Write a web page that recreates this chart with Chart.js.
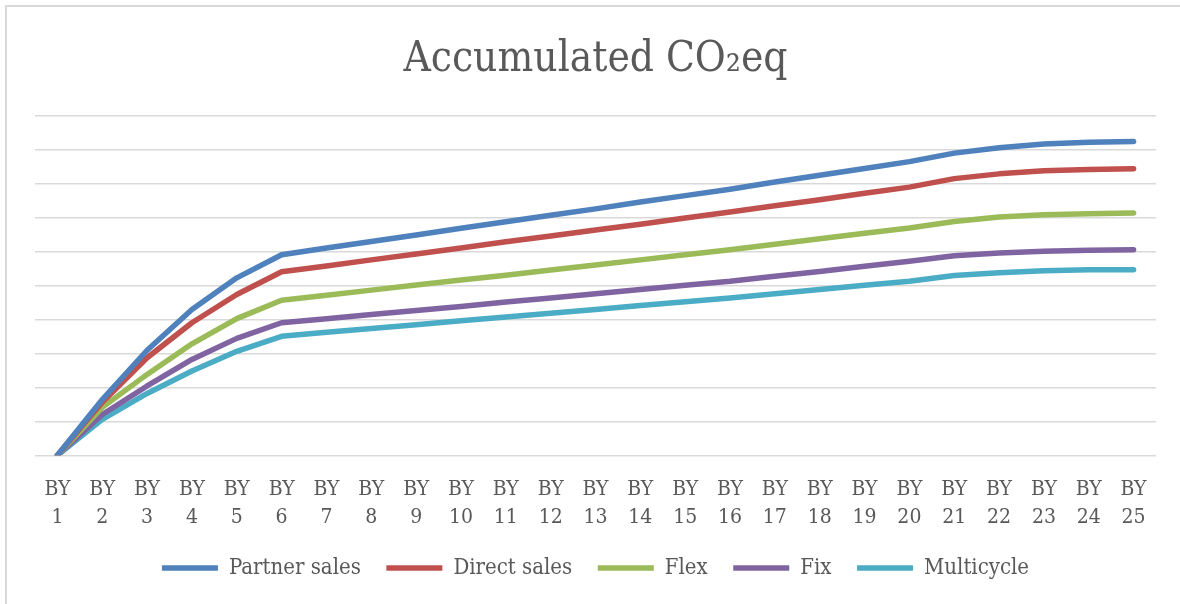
<!DOCTYPE html>
<html>
<head>
<meta charset="utf-8">
<script src="https://cdn.jsdelivr.net/npm/chart.js@4.4.1/dist/chart.umd.min.js"></script>
<style>
  body { margin: 0; overflow: hidden; background: #fff; }
</style>
</head>
<body>
<canvas id="co2Chart" width="1180" height="604"></canvas>
<script>
// categories: BY 1 .. BY 25 (two-line labels)
const years = ['1','2','3','4','5','6','7','8','9','10','11','12','13','14','15','16','17','18','19','20','21','22','23','24','25'];

// accumulated CO2eq (relative units, one gridline = 1)
const partnerSales = [0, 1.64, 3.09, 4.29, 5.22, 5.90, 6.10, 6.29, 6.48, 6.68, 6.87, 7.06, 7.25, 7.45, 7.64, 7.83, 8.04, 8.24, 8.44, 8.64, 8.89, 9.05, 9.16, 9.21, 9.23];
const directSales  = [0, 1.56, 2.87, 3.90, 4.73, 5.40, 5.57, 5.75, 5.92, 6.10, 6.28, 6.45, 6.63, 6.80, 6.98, 7.16, 7.34, 7.52, 7.71, 7.89, 8.14, 8.28, 8.37, 8.41, 8.43];
const flex         = [0, 1.41, 2.38, 3.28, 4.02, 4.56, 4.71, 4.86, 5.01, 5.16, 5.30, 5.45, 5.60, 5.75, 5.90, 6.05, 6.21, 6.37, 6.53, 6.69, 6.88, 7.01, 7.08, 7.11, 7.13];
const fix          = [0, 1.20, 2.04, 2.82, 3.44, 3.90, 4.02, 4.14, 4.26, 4.38, 4.51, 4.63, 4.75, 4.88, 5.00, 5.12, 5.27, 5.41, 5.56, 5.71, 5.87, 5.95, 6.00, 6.03, 6.05];
const multicycle   = [0, 1.06, 1.82, 2.48, 3.06, 3.50, 3.62, 3.73, 3.84, 3.96, 4.07, 4.18, 4.29, 4.41, 4.52, 4.63, 4.75, 4.88, 5.00, 5.12, 5.29, 5.37, 5.43, 5.46, 5.46];

const seriesNames = ['Partner sales', 'Direct sales', 'Flex', 'Fix', 'Multicycle'];
const seriesData = [partnerSales, directSales, flex, fix, multicycle];
const seriesColors = ['#4f81bd', '#c0504d', '#9bbb59', '#8064a2', '#4bacc6'];

const fontFamily = "'DejaVu Serif Condensed', 'Liberation Serif', serif";
const textColor = '#595959';

// thin grey frame, only its top and left edges show in the picture
const framePlugin = {
    id: 'frame',
    beforeDraw(chart) {
        const c = chart.ctx;
        c.save();
        c.strokeStyle = '#d9d9d9';
        c.lineWidth = 2;
        c.beginPath();
        c.moveTo(6, chart.height);
        c.lineTo(6, 6);
        c.lineTo(chart.width, 6);
        c.stroke();
        c.restore();
    }
};

document.addEventListener('DOMContentLoaded', function() {
    const ctx = document.getElementById('co2Chart').getContext('2d');
    new Chart(ctx, {
        type: 'line',
        data: {
            labels: years.map(n => ['BY', n]),
            datasets: seriesNames.map((name, i) => ({
                label: name,
                data: seriesData[i],
                borderColor: seriesColors[i],
                backgroundColor: seriesColors[i],
                borderWidth: 5.5,
                borderCapStyle: 'round',
                borderJoinStyle: 'round',
                pointRadius: 0,
                tension: 0
            }))
        },
        options: {
            responsive: false,
            animation: false,
            layout: { padding: { left: 35, right: 24, top: 0, bottom: 15 } },
            plugins: {
                title: {
                    display: true,
                    text: 'Accumulated CO\u2082eq',
                    color: textColor,
                    font: { family: fontFamily, size: 42, weight: 'normal' },
                    padding: { top: 35, bottom: 30 }
                },
                legend: {
                    position: 'bottom',
                    labels: {
                        usePointStyle: true,
                        pointStyle: 'line',
                        pointStyleWidth: 56,
                        boxHeight: 20,
                        color: textColor,
                        padding: 13,
                        font: { family: fontFamily, size: 22 },
                        // widen entries a little so the row keeps the spacing of the original
                        generateLabels(chart) {
                            const items = Chart.defaults.plugins.legend.labels.generateLabels(chart);
                            items.forEach((it, i) => { if (i < items.length - 1) it.text = it.text + '  '; });
                            return items;
                        }
                    }
                },
                tooltip: { enabled: false }
            },
            scales: {
                x: {
                    offset: true,
                    grid: { display: false },
                    border: { display: false },
                    ticks: {
                        color: textColor,
                        maxRotation: 0,
                        autoSkip: false,
                        padding: 12,
                        font: { family: fontFamily, size: 21, lineHeight: 1.35 }
                    }
                },
                y: {
                    min: 0,
                    max: 10,
                    grid: { color: '#d9d9d9', lineWidth: 1.5, drawTicks: false },
                    border: { display: false },
                    ticks: { display: false, stepSize: 1 }
                }
            }
        },
        plugins: [framePlugin]
    });
});
</script>
</body>
</html>
